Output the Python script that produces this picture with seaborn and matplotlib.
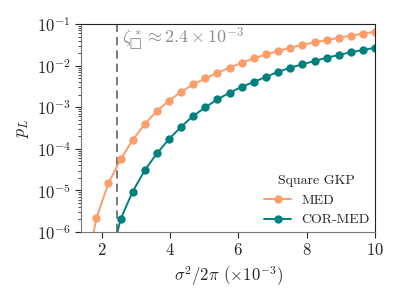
import numpy as np
import pandas as pd
import matplotlib
matplotlib.use('Agg')
import matplotlib.pyplot as plt
import seaborn as sns

sns.set_style('ticks')
plt.rcParams['font.family'] = 'serif'
plt.rcParams['font.serif'] = ['cmr10', 'DejaVu Serif']
plt.rcParams['mathtext.fontset'] = 'cm'
plt.rcParams['axes.formatter.use_mathtext'] = True
plt.rcParams['axes.unicode_minus'] = False

# sigma^2 / 2pi (x 1e-3)
x_med = [1.49, 1.85, 2.20, 2.56, 2.91, 3.27, 3.62, 3.98, 4.33, 4.68, 5.04, 5.39, 5.75,
         6.10, 6.46, 6.81, 7.17, 7.52, 7.87, 8.23, 8.58, 8.94, 9.29, 9.65, 10.0]
log_pl_med = [-7.15, -5.67, -4.83, -4.25, -3.79, -3.40, -3.09, -2.84, -2.63, -2.45, -2.305,
              -2.17, -2.05, -1.93, -1.825, -1.73, -1.65, -1.57, -1.50, -1.44, -1.385,
              -1.33, -1.28, -1.23, -1.185]

x_cor = [2.20, 2.56, 2.91, 3.27, 3.62, 3.98, 4.33, 4.68, 5.04, 5.39, 5.75,
         6.10, 6.46, 6.81, 7.17, 7.52, 7.87, 8.23, 8.58, 8.94, 9.29, 9.65, 10.0]
log_pl_cor = [-6.88, -5.69, -5.03, -4.51, -4.11, -3.76, -3.47, -3.21, -3.00, -2.81, -2.65,
              -2.51, -2.39, -2.27, -2.15, -2.05, -1.97, -1.89, -1.81, -1.745, -1.68,
              -1.625, -1.57]

threshold = 2.44
labels = ['MED', 'COR-MED']
colors = ['#fc9d6a', '#00817f']

df = pd.concat([
    pd.DataFrame({'x': x_med, 'pL': 10.0 ** np.array(log_pl_med), 'decoder': labels[0]}),
    pd.DataFrame({'x': x_cor, 'pL': 10.0 ** np.array(log_pl_cor), 'decoder': labels[1]}),
])

fig = plt.figure(figsize=(4.02, 3.0), dpi=100)
ax = fig.add_axes([0.2015, 0.2267, 0.7315, 0.6933])

sns.lineplot(data=df, x='x', y='pL', hue='decoder', palette=colors, marker='o',
             markersize=6, markeredgewidth=0, linewidth=1.4, ax=ax)

ax.axvline(threshold, color='#6b6068', linestyle=(0, (5, 3)), linewidth=1.2, zorder=0)
ax.text(threshold + 0.17, 4.2e-2, '$\\zeta_{\u25a1}^* \\approx 2.4\\times 10^{-3}$',
        color='#8c8c8c', fontsize=13, va='center', ha='left')

ax.set_yscale('log')
ax.set_xlim(1.4, 10)
ax.set_ylim(1e-6, 1e-1)
ax.set_xticks([2, 4, 6, 8, 10])
ax.set_xlabel(r'$\sigma^2/2\pi$ $(\times 10^{-3})$', fontsize=12)
ax.set_ylabel(r'$p_L$', fontsize=13)
ax.tick_params(labelsize=12, length=4, width=0.8)
ax.tick_params(which='minor', length=2, width=0.6)

for s in ['left', 'bottom']:
    ax.spines[s].set_color('#777777')
for s in ['top', 'right']:
    ax.spines[s].set_color('#222222')

leg = ax.legend(title='Square GKP', loc='lower right', frameon=False, fontsize=10,
                title_fontsize=10, handlelength=2.0, handletextpad=0.7,
                labelspacing=0.5, borderaxespad=0.2, borderpad=0.2,
                bbox_to_anchor=(1.0, 0.0))

fig.savefig('out.png', dpi=100)
